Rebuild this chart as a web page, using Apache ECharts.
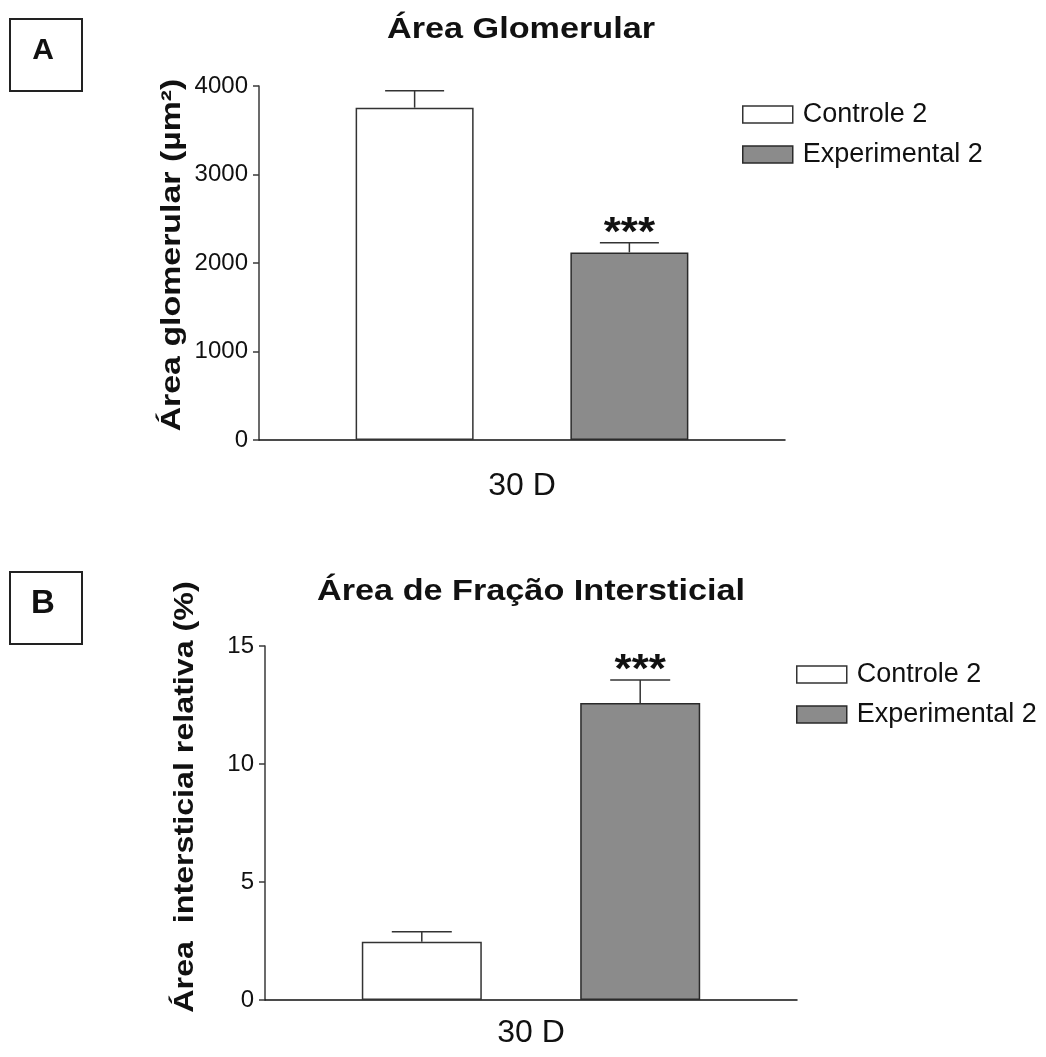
<!DOCTYPE html>
<html>
<head>
<meta charset="utf-8">
<script src="https://cdn.jsdelivr.net/npm/echarts@6/dist/echarts.min.js"></script>
<style>
  html, body { margin: 0; padding: 0; background: #ffffff; }
  #chart { width: 1046px; height: 1057px; }
</style>
</head>
<body>
<div id="chart"></div>
<script>
// Groups and period
const categories = ['30 D'];
const groupNames = ['Controle 2', 'Experimental 2'];

// Panel A: glomerular area (µm²), mean and SEM per group
const glomMean = [3755, 2120];
const glomSem = [190, 110];
const glomSig = ['', '***'];
const glomTicks = [0, 1000, 2000, 3000, 4000];

// Panel B: relative interstitial area (%), mean and SEM per group
const interMean = [2.47, 12.58];
const interSem = [0.42, 0.98];
const interSig = ['', '***'];
const interTicks = [0, 5, 10, 15];

const FONT = '"Liberation Sans", Arial, Helvetica, sans-serif';
const INK = '#111111';
const AXIS = '#3a3a3a';
const GREY = '#8b8b8b';

const barStyles = [
  { color: '#ffffff', borderColor: '#333333', borderWidth: 1.5 },
  { color: GREY, borderColor: '#2a2a2a', borderWidth: 1.5 }
];

const BAR_W = [118, 120];
const BAR_GAP = '82%';

function yAxisFor(gridIndex, ticks) {
  return {
    type: 'value', gridIndex: gridIndex,
    min: ticks[0], max: ticks[ticks.length - 1], interval: ticks[1] - ticks[0],
    splitLine: { show: false },
    axisLine: { show: true, lineStyle: { color: AXIS, width: 1.5 } },
    axisTick: { show: true, length: 6, lineStyle: { color: AXIS, width: 1.5 } },
    axisLabel: {
      fontSize: 24, color: INK, margin: 11, fontFamily: FONT,
      formatter: function (v) { return String(v); }
    }
  };
}

function xAxisFor(gridIndex, margin) {
  return {
    type: 'category', gridIndex: gridIndex, data: categories,
    axisTick: { show: false },
    axisLine: { show: true, lineStyle: { color: INK, width: 1.5 } },
    axisLabel: { fontSize: 32, color: INK, margin: margin, fontFamily: FONT }
  };
}

function barSeries(axisIndex, means, barW) {
  return groupNames.map(function (name, i) {
    return {
      type: 'bar', name: name,
      xAxisIndex: axisIndex, yAxisIndex: axisIndex,
      barWidth: barW, barGap: BAR_GAP,
      itemStyle: barStyles[i],
      emphasis: { disabled: true },
      data: [means[i]]
    };
  });
}

// Upper error bar with cap, plus significance marker above the cap
function errorSeries(axisIndex, means, sems, sig, barW) {
  return {
    type: 'custom',
    name: 'sem' + axisIndex,
    xAxisIndex: axisIndex, yAxisIndex: axisIndex,
    z: 5,
    silent: true,
    data: means.map(function (m, i) { return [0, i, m, sems[i]]; }),
    encode: { x: 0, y: 2 },
    renderItem: function (params, api) {
      const layouts = api.barLayout({ count: groupNames.length, barWidth: barW, barGap: BAR_GAP });
      const g = api.value(1);
      const lay = layouts[g];
      const mean = api.value(2);
      const sem = api.value(3);
      const base = api.coord([api.value(0), mean]);
      const tip = api.coord([api.value(0), mean + sem]);
      const cx = base[0] + lay.offsetCenter;
      const half = lay.width / 4;
      const stroke = { stroke: '#333333', lineWidth: 1.5 };
      const children = [
        { type: 'line', shape: { x1: cx, y1: base[1], x2: cx, y2: tip[1] }, style: stroke },
        { type: 'line', shape: { x1: cx - half, y1: tip[1], x2: cx + half, y2: tip[1] }, style: stroke }
      ];
      if (sig[g]) {
        children.push({
          type: 'text',
          x: cx, y: tip[1] - 9, scaleX: 1.1,
          style: {
            text: sig[g],
            align: 'center', verticalAlign: 'middle',
            textAlign: 'center', textVerticalAlign: 'middle',
            font: 'bold 40px ' + FONT, fill: INK
          }
        });
      }
      return { type: 'group', children: children };
    }
  };
}

function legendFor(left, top) {
  return {
    orient: 'vertical', left: left, top: top,
    itemWidth: 50, itemHeight: 17, itemGap: 13,
    selectedMode: false,
    textStyle: { fontSize: 27, color: INK, fontFamily: FONT, lineHeight: 27, padding: [0, 0, 0, 5] },
    data: groupNames.map(function (name, i) {
      return { name: name, icon: 'rect', itemStyle: barStyles[i] };
    })
  };
}

function panelBox(x, y, size, letter, fontSize) {
  return [
    { type: 'rect', shape: { x: x, y: y, width: size, height: size },
      style: { fill: 'none', stroke: '#222222', lineWidth: 2 } },
    { type: 'text', x: x + size / 2 - 3, y: y + size / 2 - 4,
      style: { text: letter, font: 'bold ' + fontSize + 'px ' + FONT, fill: INK,
               align: 'center', verticalAlign: 'middle',
               textAlign: 'center', textVerticalAlign: 'middle' } }
  ];
}

function wideText(text, x, y, size, stretch, rotation) {
  return {
    type: 'text', x: x, y: y, scaleX: stretch, rotation: rotation || 0,
    style: { text: text, font: 'bold ' + size + 'px ' + FONT, fill: INK,
             align: 'center', verticalAlign: 'middle',
             textAlign: 'center', textVerticalAlign: 'middle' }
  };
}

const chart = echarts.init(document.getElementById('chart'), null, { renderer: 'canvas' });

chart.setOption({
  animation: false,
  backgroundColor: '#ffffff',
  textStyle: { fontFamily: FONT },
  grid: [
    { left: 259, top: 86, width: 526, height: 354 },
    { left: 265, top: 646, width: 532, height: 354 }
  ],
  xAxis: [xAxisFor(0, 30), xAxisFor(1, 17)],
  yAxis: [yAxisFor(0, glomTicks), yAxisFor(1, interTicks)],
  legend: [legendFor(737, 96), legendFor(791, 656)],
  series: [].concat(
    barSeries(0, glomMean, BAR_W[0]),
    [errorSeries(0, glomMean, glomSem, glomSig, BAR_W[0])],
    barSeries(1, interMean, BAR_W[1]),
    [errorSeries(1, interMean, interSem, interSig, BAR_W[1])]
  ),
  graphic: [].concat(
    panelBox(10, 19, 72, 'A', 30),
    panelBox(10, 572, 72, 'B', 33),
    [
      wideText('Área Glomerular', 521, 30, 29, 1.18),
      wideText('Área de Fração Intersticial', 531, 592, 29, 1.18),
      wideText('Área glomerular (µm²)', 172, 255, 28, 1.21, Math.PI / 2),
      wideText('Área  intersticial relativa (%)', 185, 797, 28, 1.15, Math.PI / 2)
    ]
  )
});
</script>
</body>
</html>
